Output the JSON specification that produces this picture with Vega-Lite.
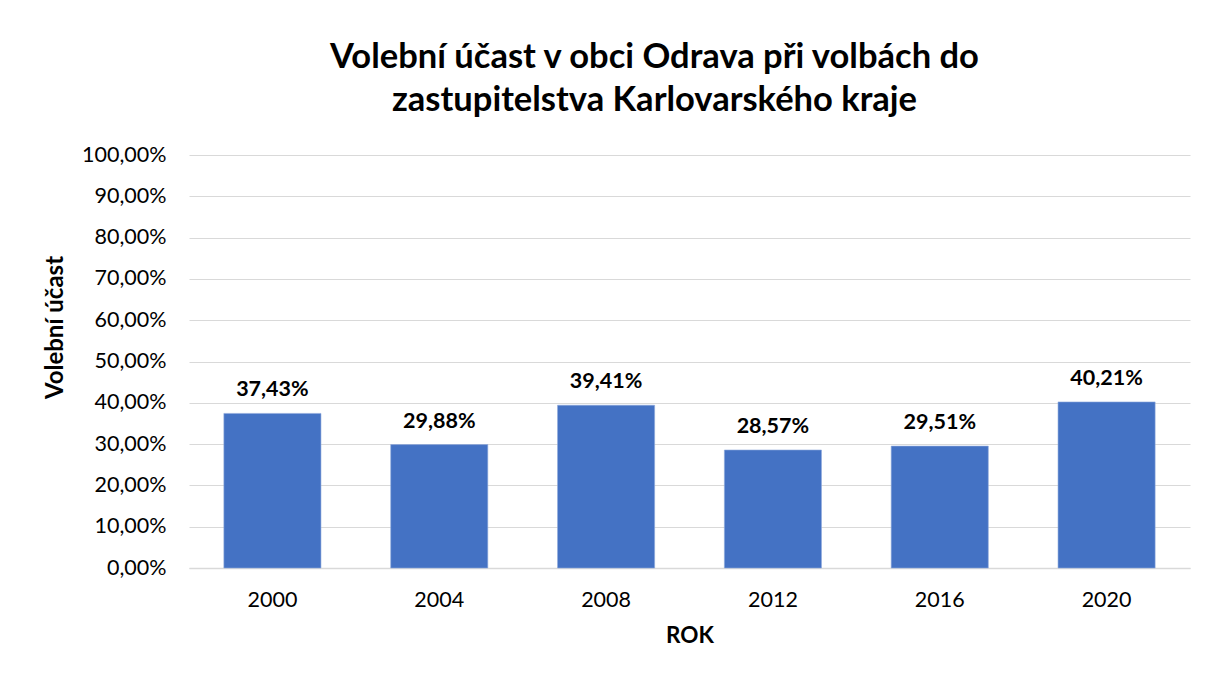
{
  "$schema": "https://vega.github.io/schema/vega-lite/v6.json",
  "autosize": {"type": "none"},
  "padding": {"left": 189, "top": 155, "right": 18, "bottom": 111},
  "width": 1001,
  "height": 413,
  "background": "white",
  "config": {
    "locale": {"number": {"decimal": ",", "thousands": " ", "grouping": [3], "currency": ["", " Kč"]}},
    "font": "Lato",
    "view": {"stroke": null}
  },
  "title": {
    "text": ["Volební účast v obci Odrava při volbách do", "zastupitelstva Karlovarského kraje"],
    "fontSize": 34.5,
    "fontWeight": "bold",
    "color": "#000000",
    "lineHeight": 43,
    "anchor": "middle",
    "dx": -35,
    "offset": 26
  },
  "data": {
    "values": [
      {"rok": "2000", "ucast": 0.3743},
      {"rok": "2004", "ucast": 0.2988},
      {"rok": "2008", "ucast": 0.3941},
      {"rok": "2012", "ucast": 0.2857},
      {"rok": "2016", "ucast": 0.2951},
      {"rok": "2020", "ucast": 0.4021}
    ]
  },
  "encoding": {
    "x": {
      "field": "rok",
      "type": "nominal",
      "title": "ROK",
      "scale": {"paddingInner": 0.418, "paddingOuter": 0.209},
      "axis": {
        "labelAngle": 0,
        "labelFontSize": 21.5,
        "labelColor": "#000000",
        "labelPadding": 21,
        "ticks": false,
        "domainColor": "#d9d9d9",
        "domainWidth": 1.5,
        "titleFontSize": 22.5,
        "titleFontWeight": "bold",
        "titleColor": "#000000",
        "titlePadding": 14
      }
    },
    "y": {
      "field": "ucast",
      "type": "quantitative",
      "title": "Volební účast",
      "scale": {"domain": [0, 1]},
      "axis": {
        "format": ".2%",
        "values": [0, 0.1, 0.2, 0.3, 0.4, 0.5, 0.6, 0.7, 0.8, 0.9, 1],
        "labelFontSize": 21.5,
        "labelColor": "#000000",
        "labelPadding": 23,
        "ticks": false,
        "domain": false,
        "gridColor": "#d9d9d9",
        "gridWidth": 1,
        "titleFontSize": 24,
        "titleFontWeight": "bold",
        "titleColor": "#000000",
        "titlePadding": 14,
        "titleY": 172
      }
    }
  },
  "layer": [
    {
      "mark": {"type": "bar", "color": "#4472C4", "stroke": "#8faadc", "strokeWidth": 0.6}
    },
    {
      "mark": {"type": "text", "baseline": "bottom", "dy": -12, "fontSize": 21.5, "fontWeight": "bold", "color": "#000000"},
      "encoding": {
        "text": {"field": "ucast", "type": "quantitative", "format": ".2%"}
      }
    }
  ]
}
